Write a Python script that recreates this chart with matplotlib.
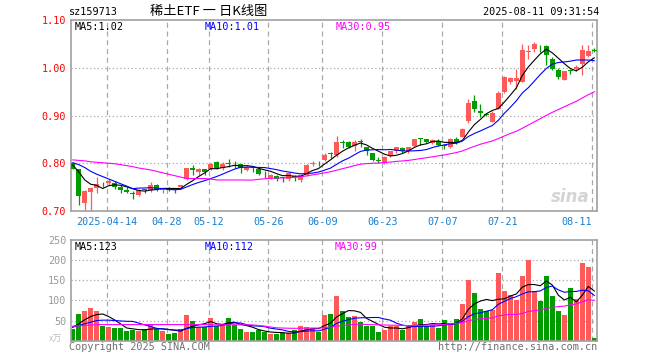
import numpy as np
import pandas as pd
import matplotlib
matplotlib.use("Agg")
import matplotlib.pyplot as plt

# daily candles, 2025-04-03 .. 2025-08-11 (one per trading day)
opens = [0.800, 0.788, 0.717, 0.740, 0.748, 0.757, 0.758, 0.759, 0.751, 0.745,
         0.738, 0.734, 0.7455, 0.744, 0.755, 0.744, 0.748, 0.747, 0.750, 0.767,
         0.790, 0.782, 0.787, 0.787, 0.802, 0.790, 0.799, 0.797, 0.798, 0.786,
         0.792, 0.787, 0.780, 0.769, 0.773, 0.770, 0.767, 0.774, 0.764, 0.775,
         0.799, 0.801, 0.806, 0.822, 0.818, 0.844, 0.844, 0.836, 0.846, 0.833,
         0.821, 0.806, 0.800, 0.815, 0.826, 0.832, 0.825, 0.836, 0.852, 0.850,
         0.843, 0.847, 0.837, 0.835, 0.851, 0.856, 0.889, 0.931, 0.910, 0.903,
         0.887, 0.914, 0.949, 0.970, 0.972, 0.971, 1.034, 1.039, 1.046, 1.046,
         1.019, 0.995, 0.975, 0.995, 0.997, 1.008, 1.025, 1.037]
highs = [0.802, 0.789, 0.743, 0.750, 0.772, 0.760, 0.767, 0.763, 0.755, 0.750,
         0.741, 0.746, 0.747, 0.7605, 0.757, 0.749, 0.751, 0.749, 0.755, 0.790,
         0.796, 0.790, 0.789, 0.800, 0.804, 0.802, 0.808, 0.805, 0.799, 0.795,
         0.793, 0.789, 0.784, 0.778, 0.775, 0.772, 0.781, 0.776, 0.777, 0.798,
         0.804, 0.804, 0.822, 0.824, 0.857, 0.849, 0.846, 0.849, 0.850, 0.835,
         0.822, 0.814, 0.815, 0.826, 0.834, 0.834, 0.834, 0.851, 0.852, 0.851,
         0.851, 0.850, 0.840, 0.853, 0.855, 0.873, 0.934, 0.943, 0.924, 0.905,
         0.909, 0.952, 0.982, 0.981, 0.997, 1.049, 1.048, 1.053, 1.048, 1.048,
         1.022, 0.9995, 0.994, 0.998, 1.005, 1.048, 1.047, 1.042]
lows = [0.787, 0.713, 0.699, 0.699, 0.738, 0.751, 0.755, 0.747, 0.738, 0.737,
        0.726, 0.732, 0.737, 0.739, 0.742, 0.738, 0.741, 0.738, 0.748, 0.765,
        0.776, 0.775, 0.776, 0.785, 0.788, 0.786, 0.793, 0.790, 0.779, 0.784,
        0.782, 0.776, 0.769, 0.767, 0.762, 0.761, 0.762, 0.763, 0.761, 0.774,
        0.794, 0.794, 0.804, 0.810, 0.813, 0.831, 0.832, 0.826, 0.835, 0.817,
        0.804, 0.800, 0.799, 0.813, 0.822, 0.821, 0.821, 0.835, 0.839, 0.842,
        0.840, 0.836, 0.829, 0.832, 0.840, 0.855, 0.884, 0.907, 0.896, 0.899,
        0.886, 0.914, 0.947, 0.966, 0.956, 0.970, 1.018, 1.034, 1.033, 1.006,
        0.995, 0.977, 0.974, 0.986, 0.993, 0.985, 1.023, 1.032]
closes = [0.789, 0.732, 0.742, 0.749, 0.756, 0.756, 0.762, 0.751, 0.744, 0.740,
          0.736, 0.744, 0.744, 0.755, 0.746, 0.747, 0.745, 0.743, 0.754, 0.790,
          0.786, 0.788, 0.781, 0.798, 0.790, 0.798, 0.798, 0.795, 0.791, 0.793,
          0.790, 0.778, 0.779, 0.776, 0.768, 0.769, 0.779, 0.772, 0.775, 0.797,
          0.801, 0.800, 0.818, 0.820, 0.845, 0.843, 0.835, 0.845, 0.844, 0.825,
          0.807, 0.805, 0.814, 0.825, 0.833, 0.825, 0.833, 0.850, 0.851, 0.8445,
          0.849, 0.838, 0.836, 0.851, 0.842, 0.872, 0.927, 0.913, 0.905, 0.902,
          0.906, 0.948, 0.980, 0.978, 0.978, 1.037, 1.036, 1.050, 1.045, 1.027,
          0.998, 0.980, 0.993, 0.994, 1.002, 1.037, 1.036, 1.035]
volumes = [29, 66, 74, 81, 74, 36.5, 34, 31.5, 31.5, 24,
           26.5, 24, 29, 40.6, 29, 24, 16.6, 19, 30, 64,
           49.7, 34, 34, 56, 36.5, 41.5, 56, 39, 29, 21.6,
           21.6, 26.5, 21.6, 16.6, 16.6, 19, 19, 26.5, 36.5, 34,
           31.5, 21.6, 64, 66, 111, 74, 59, 61, 46.5, 36.5,
           36.5, 21.6, 26.5, 36.5, 36.5, 26.5, 36.5, 46.5, 54, 36.5,
           39, 31.5, 51.5, 44, 54, 91, 150, 118.5, 78.7, 74,
           76, 168, 123, 113, 101, 160, 200, 123, 98, 160,
           110, 74, 64, 130, 103.5, 193, 183, 7]

ma5_head = [0.796, 0.782, 0.765, 0.756]
ma10_head = [0.801, 0.797, 0.791, 0.783, 0.777, 0.772, 0.767, 0.762, 0.757]
ma30_head = [0.807, 0.806, 0.805, 0.803, 0.802, 0.801, 0.800, 0.799, 0.797, 0.795,
             0.793, 0.790, 0.788, 0.786, 0.783, 0.780, 0.777, 0.774, 0.771, 0.768,
             0.768, 0.768, 0.768, 0.767, 0.765, 0.765, 0.765, 0.765, 0.765]
vma5_head = [33, 42, 52, 60]
vma10_head = [35, 38, 42, 46, 50, 51, 51, 50, 49]
vma30_head = [36, 37, 38, 39, 40, 40, 40, 40, 40, 40,
              40, 40, 40, 40, 40, 40, 40, 40, 40, 40,
              40, 40, 40, 39.5, 39.5, 39.5, 39.5, 39.5, 39.5]

tick_idx = [6, 16, 23, 33, 42, 52, 62, 72, 87]
tick_labels = ["2025-04-14", "04-28", "05-12", "05-26", "06-09",
               "06-23", "07-07", "07-21", "08-11"]
price_ticks = [0.70, 0.80, 0.90, 1.00, 1.10]
vol_ticks = [50, 100, 150, 200, 250]

RED = "#ff5a5a"
GREEN = "#009c00"
GRID = "#a8a8a8"
FRAME = "#a0a0a0"
MONO = "DejaVu Sans Mono"


def moving(values, n, head):
    m = pd.Series(values, dtype=float).rolling(n).mean()
    m.iloc[:len(head)] = head
    return m.values


o = np.array(opens)
c = np.array(closes)
x = np.arange(len(c))
colors = np.where(c >= o, RED, GREEN)

W, H = 660, 360
fig = plt.figure(figsize=(6.6, 3.6), dpi=100)
L, R = 70.5, 597
ax = fig.add_axes([L / W, 1 - 211 / H, (R - L) / W, 191 / H])
axv = fig.add_axes([L / W, 1 - 340.7 / H, (R - L) / W, 100.7 / H])

for a in (ax, axv):
    a.set_xlim(-0.38, 87.45)
    for s in a.spines.values():
        s.set_color(FRAME)
        s.set_linewidth(1.2)
    for t in tick_idx:
        a.axvline(t - 0.35, color=GRID, lw=0.9, ls=(0, (4, 3)), zorder=0)
    a.set_xticks([])
    a.tick_params(axis="y", length=0, pad=3)

# price panel
ax.set_ylim(0.70, 1.10)
for yv in price_ticks[1:-1]:
    ax.axhline(yv, color=GRID, lw=0.9, ls=(0, (1, 2)), zorder=0)
ax.vlines(x, lows, highs, colors=colors, lw=0.9, zorder=2)
ax.bar(x, np.maximum(np.abs(c - o), 0.0015), bottom=np.minimum(o, c),
       width=0.78, color=colors, zorder=3)
ax.plot(x, moving(closes, 5, ma5_head), color="black", lw=0.8, zorder=4)
ax.plot(x, moving(closes, 10, ma10_head), color="#0000ff", lw=0.8, zorder=4)
ax.plot(x, moving(closes, 30, ma30_head), color="#ff00ff", lw=0.8, zorder=4)
ax.set_yticks(price_ticks)
ax.set_yticklabels([f"{v:.2f}" for v in price_ticks], color="#ff0000",
                   family=MONO, fontsize=7.3)

for t, lab in zip(tick_idx, tick_labels):
    ha = "right" if t == tick_idx[-1] else "center"
    ax.text(t - 0.35, -0.058, lab, transform=ax.get_xaxis_transform(),
            ha=ha, va="center", color="#1a7fcf", family=MONO, fontsize=7.3)

ax.text(0.985, 0.075, "sina", transform=ax.transAxes, ha="right", va="center",
        color="#d4d4d4", fontsize=12, style="italic", weight="bold", zorder=1)

# volume panel
axv.set_ylim(0, 250)
for yv in vol_ticks[:-1]:
    axv.axhline(yv, color=GRID, lw=0.9, ls=(0, (1, 2)), zorder=0)
axv.bar(x, volumes, width=0.78, color=colors, zorder=2)
axv.plot(x, moving(volumes, 5, vma5_head), color="black", lw=0.8, zorder=3)
axv.plot(x, moving(volumes, 10, vma10_head), color="#0000ff", lw=0.8, zorder=3)
axv.plot(x, moving(volumes, 30, vma30_head), color="#ff00ff", lw=0.8, zorder=3)
axv.set_yticks(vol_ticks)
axv.set_yticklabels([str(v) for v in vol_ticks], color="#999999",
                    family=MONO, fontsize=7.3)


def ftext(px, py, s, **kw):
    kw.setdefault("family", MONO)
    kw.setdefault("fontsize", 7.3)
    kw.setdefault("va", "center")
    fig.text(px / W, 1 - py / H, s, **kw)


ftext(69, 12, "sz159713", color="black")
ftext(150, 12, "稀土ETF 一 日K线图", color="black",
      family=["Noto Sans CJK SC", "DejaVu Sans"], fontsize=9.5)
ftext(599, 12, "2025-08-11 09:31:54", color="black", ha="right")

ftext(75, 27, "MA5:1.02", color="black")
ftext(205, 27, "MA10:1.01", color="#0000ff")
ftext(336, 27, "MA30:0.95", color="#ff00ff")

ftext(75, 247, "MA5:123", color="black")
ftext(205, 247, "MA10:112", color="#0000ff")
ftext(335, 247, "MA30:99", color="#ff00ff")

ftext(49, 339, "x万", color="#c0c0c0", family=["Noto Sans CJK SC", "DejaVu Sans"],
      fontsize=6.5)
ftext(69, 347, "Copyright 2025 SINA.COM", color="#707070")
ftext(597, 347, "http://finance.sina.com.cn", color="#707070", ha="right")

fig.savefig("out.png", dpi=100, facecolor="white")
